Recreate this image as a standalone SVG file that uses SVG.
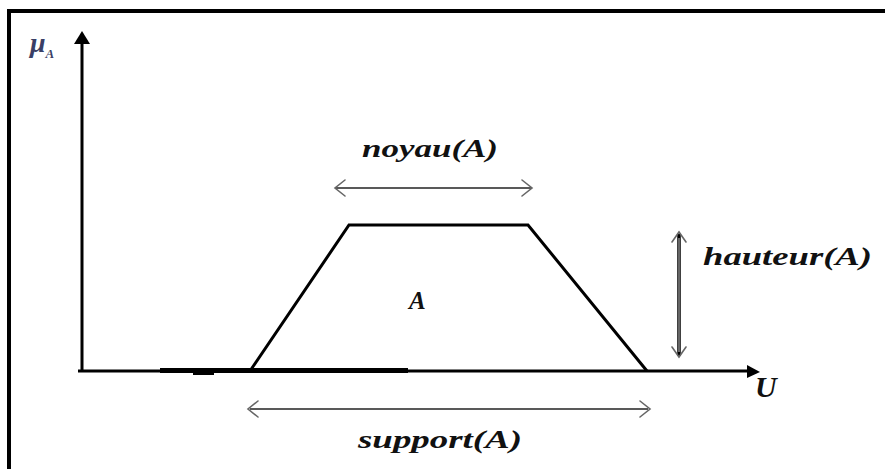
<svg xmlns="http://www.w3.org/2000/svg" width="885" height="469" viewBox="0 0 885 469">
<style>
.lbl{font-family:"Liberation Serif","Times New Roman",serif;font-style:italic;font-weight:bold;fill:#111}
.axis{stroke:#000;stroke-width:3;fill:none}
.dim{stroke:#222;stroke-width:1.5;fill:none}
.head{stroke:#666;stroke-width:1.6;fill:none;stroke-linecap:round}
</style>
<rect width="885" height="469" fill="#fff"/>
<g id="frame">
<line x1="7" y1="11" x2="885" y2="11" stroke="#000" stroke-width="4"/>
<line x1="9" y1="9" x2="9" y2="469" stroke="#000" stroke-width="4"/>
</g>
<g id="axes">
<line class="axis" x1="82" y1="371" x2="82" y2="44"/>
<path d="M74,44 L82,31 L90,44 z" fill="#000"/>
<line class="axis" x1="78" y1="371" x2="748" y2="371"/>
<path d="M747,365 L760,372 L747,378 z" fill="#000"/>
<rect x="160" y="368" width="248" height="5" fill="#000"/>
<rect x="193" y="370" width="21" height="5" fill="#000"/>
<text class="lbl" x="755" y="397" font-size="30">U</text>
<text x="30" y="52" font-family="Liberation Serif,serif" font-style="italic" font-weight="bold" font-size="28" fill="#3a3f66">μ<tspan font-size="13" dy="6">A</tspan></text>
</g>
<g id="set-A">
<polyline points="250,371 349,225 528,225 647,371" fill="none" stroke="#000" stroke-width="3" stroke-linejoin="miter"/>
<text class="lbl" x="409" y="309" font-size="25" font-weight="normal">A</text>
</g>
<g id="connectors">
<g id="noyau-arrow">
<line class="dim" x1="336" y1="188" x2="531" y2="188"/>
<polyline class="head" points="345,180 335,188 345,196"/>
<polyline class="head" points="522,180 532,188 522,196"/>
</g>
<g id="hauteur-arrow">
<line x1="679" y1="234" x2="679" y2="356" stroke="#000" stroke-width="3.5"/>
<line x1="679" y1="238" x2="679" y2="352" stroke="#fff" stroke-width="0.8"/>
<polyline class="head" points="672,242 679,232 686,242" stroke="#333"/>
<polyline class="head" points="672,347 679,357 686,347" stroke="#222"/>
</g>
<g id="support-arrow">
<line class="dim" x1="250" y1="409" x2="648" y2="409"/>
<polyline class="head" points="258,401 248,409 258,417"/>
<polyline class="head" points="640,401 650,409 640,417"/>
</g>
</g>
<g id="labels">
<text class="lbl" x="362" y="157" font-size="26" textLength="136" lengthAdjust="spacingAndGlyphs">noyau(A)</text>
<text class="lbl" x="703" y="265" font-size="26" textLength="169" lengthAdjust="spacingAndGlyphs">hauteur(A)</text>
<text class="lbl" x="358" y="448" font-size="26" textLength="164" lengthAdjust="spacingAndGlyphs">support(A)</text>
</g>
</svg>
